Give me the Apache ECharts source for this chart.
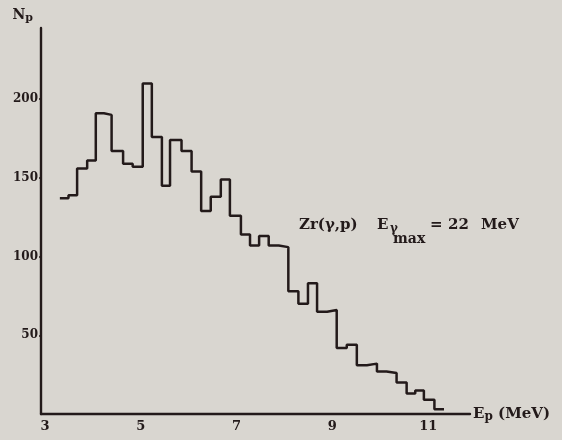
<!DOCTYPE html>
<html><head><meta charset="utf-8">
<script src="https://cdn.jsdelivr.net/npm/echarts@6/dist/echarts.min.js"></script>
<style>html,body{margin:0;padding:0;background:#d9d6d0}#c{width:562px;height:440px}</style>
</head><body><div id="c"></div>
<script>
// Bin edges (MeV) and proton counts
const binEdges = [3.31,3.49,3.67,3.88,4.06,4.23,4.39,4.63,4.83,5.04,
  5.23,5.44,5.61,5.85,6.06,6.26,6.46,6.67,6.86,7.09,
  7.28,7.47,7.67,7.88,8.08,8.29,8.49,8.68,8.89,9.09,
  9.30,9.51,9.72,9.93,10.13,10.34,10.55,10.73,10.91,11.13,11.33];
const counts = [137,139,156,161,191,190,167,159,157,210,
  176,145,174,167,154,129,138,149,126,114,
  107,113,107,106,78,70,83,65,66,42,
  44,31,32,27,26,20,13,15,9,3];
const xTickLabels = [3,5,7,9,11];
const yTickLabels = [50,100,150,200];

const stepData = counts.map((c,i)=>[binEdges[i], c]);
stepData.push([binEdges[binEdges.length-1], counts[counts.length-1]]);

const ink = '#231a1a';
const font = '"DejaVu Serif", "Liberation Serif", serif';
const chart = echarts.init(document.getElementById('c'), null, {renderer:'canvas'});
chart.setOption({
  backgroundColor:'#d9d6d0',
  animation:false,
  grid:{left:41, right:92, top:28, bottom:26},
  xAxis:{
    type:'value', min:2.916, max:11.873,
    axisLine:{show:true, lineStyle:{color:ink, width:2.4}},
    axisTick:{show:false},
    splitLine:{show:false},
    axisLabel:{customValues:xTickLabels, color:ink, fontFamily:font, fontWeight:'bold', fontSize:13, margin:6},
    name:'{a|E}{s|p}{a| (MeV)}', nameLocation:'end', nameGap:3,
    nameTextStyle:{rich:{
      a:{fontFamily:font, fontWeight:'bold', fontSize:15, color:ink},
      s:{fontFamily:font, fontWeight:'bold', fontSize:12, color:ink, padding:[6,0,0,0]}
    }}
  },
  yAxis:{
    type:'value', min:0, max:245.2,
    axisLine:{show:true, lineStyle:{color:ink, width:2.4}},
    axisTick:{show:true, customValues:yTickLabels, length:2, lineStyle:{color:ink, width:1.5}},
    splitLine:{show:false},
    axisLabel:{customValues:yTickLabels, color:ink, fontFamily:font, fontWeight:'bold', fontSize:12, margin:3},
    name:'{a|N}{s|p}', nameLocation:'end', nameGap:4,
    nameTextStyle:{align:'right', padding:[0,8,0,0], rich:{
      a:{fontFamily:font, fontWeight:'bold', fontSize:14, color:ink},
      s:{fontFamily:font, fontWeight:'bold', fontSize:11, color:ink, padding:[6,0,0,0]}
    }}
  },
  series:[{
    type:'line', step:'end', data:stepData, symbol:'none',
    lineStyle:{color:ink, width:2.5}
  }],
  graphic:[
    {type:'text', left:299, top:218, style:{text:'Zr(γ,p)', font:'bold 15px '+font, fill:ink}},
    {type:'text', left:377, top:218, style:{text:'E', font:'bold 15px '+font, fill:ink}},
    {type:'text', left:390, top:223, style:{text:'γ', font:'bold 12px '+font, fill:ink}},
    {type:'text', left:393, top:232, style:{text:'max', font:'bold 14px '+font, fill:ink}},
    {type:'text', left:430, top:218, style:{text:'=', font:'bold 15px '+font, fill:ink}},
    {type:'text', left:448, top:218, style:{text:'22', font:'bold 15px '+font, fill:ink}},
    {type:'text', left:481, top:218, style:{text:'MeV', font:'bold 15px '+font, fill:ink}}
  ]
});
</script></body></html>
